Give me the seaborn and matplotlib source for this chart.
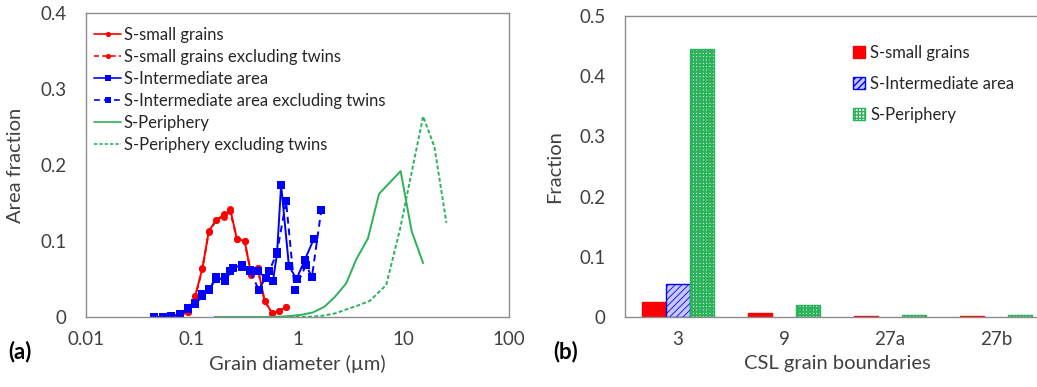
import matplotlib
matplotlib.use("Agg")
import matplotlib.pyplot as plt
import seaborn as sns
import pandas as pd
import numpy as np
from matplotlib.patches import Patch
from matplotlib.lines import Line2D

# ---------------- data (left panel) ----------------
red_x = [0.053, 0.064, 0.077, 0.092, 0.108, 0.126, 0.145, 0.171, 0.200, 0.231, 0.267, 0.316, 0.366, 0.420, 0.489, 0.578, 0.667, 0.780]
red_y = [0.000, 0.000, 0.003, 0.006, 0.028, 0.064, 0.113, 0.128, 0.132, 0.142, 0.103, 0.100, 0.055, 0.065, 0.021, 0.005, 0.008, 0.013]
red_ex_x = [0.053, 0.064, 0.077, 0.092, 0.108, 0.126, 0.145, 0.171, 0.200, 0.231, 0.267, 0.316, 0.366, 0.420, 0.489, 0.578, 0.667, 0.780]
red_ex_y = [0.000, 0.000, 0.003, 0.006, 0.027, 0.063, 0.112, 0.127, 0.135, 0.139, 0.103, 0.100, 0.056, 0.064, 0.021, 0.005, 0.008, 0.013]

blue_x = [0.044, 0.053, 0.064, 0.078, 0.092, 0.108, 0.126, 0.145, 0.171, 0.205, 0.248, 0.296, 0.357, 0.420, 0.500, 0.585, 0.640, 0.700, 0.830, 0.980, 1.170, 1.420]
blue_y = [0.000, 0.000, 0.001, 0.004, 0.010, 0.017, 0.027, 0.035, 0.053, 0.047, 0.065, 0.068, 0.062, 0.061, 0.051, 0.047, 0.083, 0.174, 0.067, 0.050, 0.075, 0.102]
blue_ex_x = [0.044, 0.053, 0.064, 0.078, 0.092, 0.108, 0.126, 0.145, 0.171, 0.205, 0.229, 0.296, 0.357, 0.430, 0.540, 0.640, 0.780, 0.940, 1.200, 1.370, 1.680]
blue_ex_y = [0.000, 0.000, 0.001, 0.004, 0.012, 0.018, 0.030, 0.037, 0.050, 0.052, 0.060, 0.066, 0.060, 0.036, 0.060, 0.085, 0.152, 0.036, 0.068, 0.053, 0.141]

green_x = [0.165, 0.30, 0.50, 0.70, 0.88, 1.10, 1.40, 1.80, 2.24, 2.88, 3.60, 4.64, 5.90, 9.45, 12.0, 15.4]
green_y = [0.000, 0.000, 0.000, 0.0005, 0.0015, 0.003, 0.006, 0.0136, 0.026, 0.044, 0.076, 0.1035, 0.162, 0.192, 0.113, 0.071]
green_ex_x = [0.165, 0.50, 1.00, 1.40, 1.80, 2.30, 2.90, 3.70, 4.80, 6.90, 9.30, 12.0, 15.4, 19.7, 25.6]
green_ex_y = [0.000, 0.000, 0.000, 0.0005, 0.002, 0.005, 0.010, 0.015, 0.021, 0.042, 0.115, 0.190, 0.264, 0.224, 0.124]

left_xticks = [0.01, 0.1, 1, 10, 100]
left_xticklabels = ["0.01", "0.1", "1", "10", "100"]
left_yticks = [0, 0.1, 0.2, 0.3, 0.4]
left_yticklabels = ["0", "0.1", "0.2", "0.3", "0.4"]

# ---------------- data (right panel) ----------------
categories = ["3", "9", "27a", "27b"]
small_frac = [0.025, 0.007, 0.001, 0.002]
inter_frac = [0.055, 0.0, 0.0, 0.0]
periph_frac = [0.446, 0.020, 0.003, 0.003]
right_yticks = [0, 0.1, 0.2, 0.3, 0.4, 0.5]
right_yticklabels = ["0", "0.1", "0.2", "0.3", "0.4", "0.5"]

# ---------------- style ----------------
sns.set_theme(style="white")
plt.rcParams["font.family"] = ["Lato", "DejaVu Sans"]
plt.rcParams["hatch.linewidth"] = 1.0

RED = "#ff0000"
BLUE = "#0000ff"
GREEN = "#2bb25a"
BLUE_FACE = "#c8c8ff"
SPINE = "#8c8c8c"
TXT = "#404040"

W, H = 1037, 387
fig = plt.figure(figsize=(W / 100, H / 100), dpi=100)
axL = fig.add_axes([86 / W, 70 / H, 423 / W, 304 / H])
axR = fig.add_axes([625 / W, 70 / H, 424 / W, 301 / H])

# ---------------- left panel ----------------
series = [
    (red_x, red_y, "S-small grains", RED, "o", "-"),
    (red_ex_x, red_ex_y, "S-small grains excluding twins", RED, "o", (0, (3, 2))),
    (blue_x, blue_y, "S-Intermediate area", BLUE, "s", "-"),
    (blue_ex_x, blue_ex_y, "S-Intermediate area excluding twins", BLUE, "s", (0, (3.5, 2.5))),
    (green_x, green_y, "S-Periphery", GREEN, None, "-"),
    (green_ex_x, green_ex_y, "S-Periphery excluding twins", GREEN, None, (0, (2, 1.2))),
]
handles = []
for xs, ys, lab, col, mk, ls in series:
    df = pd.DataFrame({"x": xs, "y": ys})
    ms = 5 if mk == "o" else 6
    sns.lineplot(data=df, x="x", y="y", ax=axL, color=col, marker=mk,
                 markersize=ms, markeredgewidth=0, linestyle=ls,
                 linewidth=1.4, sort=False, estimator=None, legend=False)
    handles.append(Line2D([], [], color=col, marker=mk, markersize=ms * 0.75,
                          markeredgewidth=0, linestyle=ls, linewidth=1.2, label=lab))

axL.set_xscale("log")
axL.set_xlim(0.01, 100)
axL.set_ylim(0, 0.4)
axL.set_xticks(left_xticks)
axL.set_xticklabels(left_xticklabels)
axL.set_yticks(left_yticks)
axL.set_yticklabels(left_yticklabels)
axL.xaxis.set_minor_locator(matplotlib.ticker.NullLocator())
axL.set_xlabel("Grain diameter (\u00b5m)", fontsize=14.5, color=TXT, labelpad=5)
axL.set_ylabel("Area fraction", fontsize=14.5, color=TXT, labelpad=12)
axL.legend(handles=handles, loc="upper left", bbox_to_anchor=(0.02, 0.955),
           frameon=False, fontsize=12, handlelength=1.6, handletextpad=0.15,
           labelspacing=0.36, borderaxespad=0, borderpad=0)

# ---------------- right panel ----------------
dfb = pd.DataFrame({
    "cat": categories * 3,
    "val": small_frac + inter_frac + periph_frac,
    "grp": ["S-small grains"] * 4 + ["S-Intermediate area"] * 4 + ["S-Periphery"] * 4,
})
hue_order = ["S-small grains", "S-Intermediate area", "S-Periphery"]
sns.barplot(data=dfb, x="cat", y="val", hue="grp", hue_order=hue_order,
            order=categories, ax=axR, width=0.68, legend=False,
            palette=[RED, BLUE, GREEN], saturation=1)

styles = {
    0: dict(facecolor=RED, edgecolor=RED, hatch=None, hlw=1.0),
    1: dict(facecolor=BLUE_FACE, edgecolor=BLUE, hatch="/////", hlw=0.6),
    2: dict(facecolor="white", edgecolor=GREEN, hatch="+++++", hlw=1.6),
}
for gi, cont in enumerate(axR.containers):
    st = styles[gi]
    for p in cont.patches:
        if p.get_height() <= 0:
            p.set_visible(False)
            continue
        p.set_facecolor(st["facecolor"])
        p.set_edgecolor(st["edgecolor"])
        p.set_linewidth(1.0)
        if st["hatch"]:
            p.set_hatch(st["hatch"])
            if hasattr(p, "set_hatch_linewidth"):
                p.set_hatch_linewidth(st["hlw"])
            else:
                p._hatch_linewidth = st["hlw"]

axR.set_xlim(-0.5, 3.5)
axR.set_ylim(0, 0.5)
axR.set_yticks(right_yticks)
axR.set_yticklabels(right_yticklabels)
axR.set_xlabel("CSL grain boundaries", fontsize=14.5, color=TXT, labelpad=5)
axR.set_ylabel("Fraction", fontsize=14.5, color=TXT, labelpad=12)
axR.set_xticks([0.5, 1.5, 2.5], minor=True)
axR.tick_params(axis="x", which="major", length=0, pad=10)
axR.tick_params(axis="x", which="minor", direction="in", length=5, color=SPINE, width=1)

leg_handles = [
    Patch(facecolor=RED, edgecolor=RED, label="S-small grains"),
    Patch(facecolor=BLUE_FACE, edgecolor=BLUE, hatch="/////", label="S-Intermediate area"),
    Patch(facecolor="white", edgecolor=GREEN, hatch="+++++", label="S-Periphery"),
]
axR.legend(handles=leg_handles, loc="upper left", bbox_to_anchor=(0.537, 0.905),
           frameon=False, fontsize=12, handlelength=0.75, handleheight=0.75,
           handletextpad=0.3, labelspacing=0.9, borderaxespad=0, borderpad=0)

for ax in (axL, axR):
    for s in ax.spines.values():
        s.set_color(SPINE)
        s.set_linewidth(1.0)
        s.set_visible(True)
    ax.tick_params(axis="y", which="major", direction="in", length=5, color=SPINE,
                   labelsize=13.5, labelcolor=TXT, pad=14)
    ax.tick_params(axis="x", labelsize=13.5, labelcolor=TXT)
axL.tick_params(axis="x", which="major", direction="in", length=5, color=SPINE, pad=10)

fig.text(8 / W, 1 - 352 / H, "(a)", fontsize=16, fontweight="bold", va="center", ha="left", color="black")
fig.text(553 / W, 1 - 352 / H, "(b)", fontsize=16, fontweight="bold", va="center", ha="left", color="black")

fig.savefig("out.png", dpi=100)
